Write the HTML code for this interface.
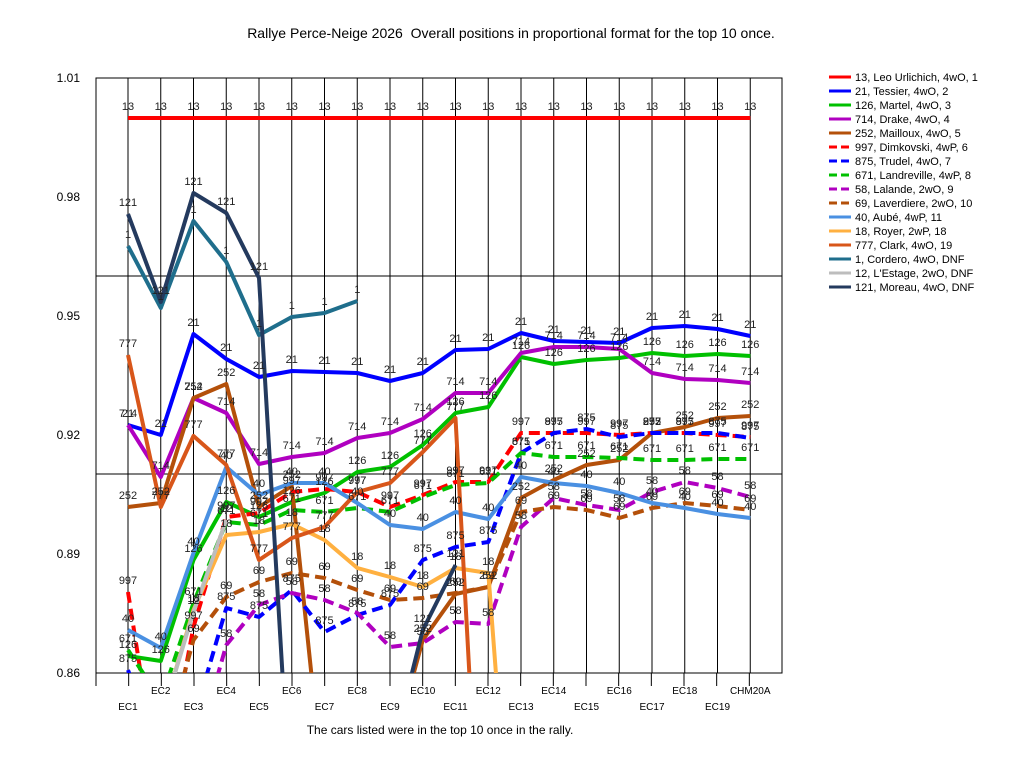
<!DOCTYPE html>
<html><head><meta charset="utf-8"><style>
html,body{margin:0;padding:0;background:#fff;width:1024px;height:768px;overflow:hidden;font-family:"Liberation Sans",sans-serif}
svg{display:block;overflow:hidden}
svg text{font-family:"Liberation Sans",sans-serif}
</style></head><body>
<svg id="s" width="1024" height="768" viewBox="0 0 1024 768" xmlns="http://www.w3.org/2000/svg">
<rect width="1024" height="768" fill="#fff"/>
<text x="511" y="38" font-size="14" text-anchor="middle" xml:space="preserve">Rallye Perce-Neige 2026  Overall positions in proportional format for the top 10 once.</text>
<text x="440" y="734" font-size="12" text-anchor="middle">The cars listed were in the top 10 once in the rally.</text>
<defs><clipPath id="c"><rect x="96" y="78" width="686" height="595"/></clipPath></defs>
<g id="grid"></g>
<g id="ser" clip-path="url(#c)"></g>
<g id="lab"></g>
<g id="leg"></g>
</svg>
<script>
const NS="http://www.w3.org/2000/svg";
function el(p,t,a,txt){const e=document.createElementNS(NS,t);for(const k in a)e.setAttribute(k,a[k]);if(txt!==undefined)e.textContent=txt;p.appendChild(e);return e;}
const g=document.getElementById('grid'),S=document.getElementById('ser'),L=document.getElementById('lab'),LG=document.getElementById('leg');
const X=i=>128+i*32.75;
el(g,'rect',{x:96,y:78,width:686,height:595,fill:'none',stroke:'#000','stroke-width':1});
el(g,'line',{x1:96,y1:276,x2:782,y2:276,stroke:'#000'});
el(g,'line',{x1:96,y1:474,x2:782,y2:474,stroke:'#000'});
for(let i=0;i<20;i++){el(g,'line',{x1:X(i),y1:78,x2:X(i),y2:673,stroke:'#000'});}
for(let i=0;i<=20;i++){const x=96+i*(686/21);el(g,'line',{x1:x,y1:673,x2:x,y2:686,stroke:'#000'});}
const cats=["EC1","EC2","EC3","EC4","EC5","EC6","EC7","EC8","EC9","EC10","EC11","EC12","EC13","EC14","EC15","EC16","EC17","EC18","EC19","CHM20A"];
cats.forEach((c,i)=>el(g,'text',{x:X(i),y:i%2?694:710,'font-size':10,'text-anchor':'middle'},c));
[["1.01",78],["0.98",197],["0.95",316],["0.92",435],["0.89",554],["0.86",673]].forEach(([t,y])=>el(g,'text',{x:80,y:y+4,'font-size':12,'text-anchor':'end'},t));
const N=null;
const series=[
["13","13, Leo Urlichich, 4wO, 1","#ff0000",0,Array(20).fill(118)],
["21","21, Tessier, 4wO, 2","#0000ff",0,[425,435,334,359,377,371,372,373,381,373,350,349,333,341,342,343,328,326,329,336]],
["126","126, Martel, 4wO, 3","#00c000",0,[656,661,560,502,517,502,493,472,467,445,413,407,357,364,360,358,353,356,354,356]],
["714","714, Drake, 4wO, 4","#b000c0",0,[425,477,398,413,464,457,453,438,433,419,393,393,353,347,347,349,373,379,380,383]],
["252","252, Mailloux, 4wO, 5","#b4500a",0,[507,503,398,384,507,486,800,900,760,640,594,587,498,480,465,460,433,427,418,416]],
["997","997, Dimkovski, 4wP, 6","#ff0000",1,[592,800,627,517,513,492,489,492,507,495,482,482,433,433,433,435,433,433,435,437]],
["875","875, Trudel, 4wO, 7","#0000ff",1,[670,760,720,608,617,590,632,615,605,560,547,542,453,433,429,437,433,433,433,438]],
["671","671, Landreville, 4wP, 8","#00c000",1,[650,700,603,522,525,510,512,508,512,497,485,483,453,457,457,458,460,460,459,459]],
["58","58, Lalande, 2wO, 9","#b000c0",1,[N,N,760,645,605,593,600,613,647,643,622,624,527,498,505,510,492,482,488,497]],
["69","69, Laverdiere, 2wO, 10","#b4500a",1,[N,760,640,597,582,573,578,590,600,598,593,587,512,507,510,518,508,503,506,510]],
["40","40, Aubé, 4wP, 11","#4a90e2",0,[630,648,553,467,495,483,483,503,525,529,512,519,477,483,486,493,503,508,514,518]],
["18","18, Royer, 2wP, 18","#ffb040",0,[N,720,610,535,532,524,540,568,577,587,568,573,1000,N,N,N,N,N,N,N]],
["777","777, Clark, 4wO, 19","#d8561a",0,[355,507,436,465,560,538,527,492,483,452,418,1020,N,N,N,N,N,N,N,N]],
["1","1, Cordero, 4wO,  DNF","#1f6e8c",0,[246,308,221,262,335,317,313,301,N,N,N,N,N,N,N,N,N,N,N,N]],
["12","12, L'Estage, 2wO,  DNF","#bdbdbd",0,[N,720,612,520,N,N,N,N,N,N,N,N,N,N,N,N,N,N,N,N]],
["121","121, Moreau, 4wO,  DNF","#243a5e",0,[214,302,193,213,278,830,900,900,760,630,565,N,N,N,N,N,N,N,N,N]]
];
const YB=678;
series.forEach((s,k)=>{
  let d="";let last=null;
  const v=s[4];
  for(let i=0;i<v.length-1;i++){
    const a=v[i],b=v[i+1];
    if(a===null||b===null){last=null;continue;}
    if(a>YB&&b>YB){last=null;continue;}
    let x1=X(i),y1=a,x2=X(i+1),y2=b,cut=false;
    if(y1>YB){x1=x1+(x2-x1)*(y1-YB)/(y1-y2);y1=YB;cut=true;}
    if(y2>YB){x2=x1+(x2-x1)*(YB-y1)/(y2-y1);y2=YB;}
    if(last!==i||cut)d+="M"+x1.toFixed(1)+","+y1.toFixed(1)+" ";
    d+="L"+x2.toFixed(1)+","+y2.toFixed(1)+" ";
    last=(y2===b)?i+1:null;
  }
  const a={d:d,fill:'none',stroke:s[2],'stroke-width':4,'stroke-linejoin':'round'};
  if(s[3])a['stroke-dasharray']='11,6';
  el(S,'path',a);
  v.forEach((y,i)=>{if(y===null||y>673||y<78)return;el(L,'text',{x:X(i),y:y-8,'font-size':11,'text-anchor':'middle',fill:'#222'},s[0]);});
  const ly=77+k*14;
  const la={x1:829,y1:ly,x2:851,y2:ly,stroke:s[2],'stroke-width':3};
  if(s[3])la['stroke-dasharray']='8,4';
  el(LG,'line',la);
  el(LG,'text',{x:855,y:ly+4,'font-size':11,'xml:space':'preserve'},s[1]);
});
</script>
</body></html>
